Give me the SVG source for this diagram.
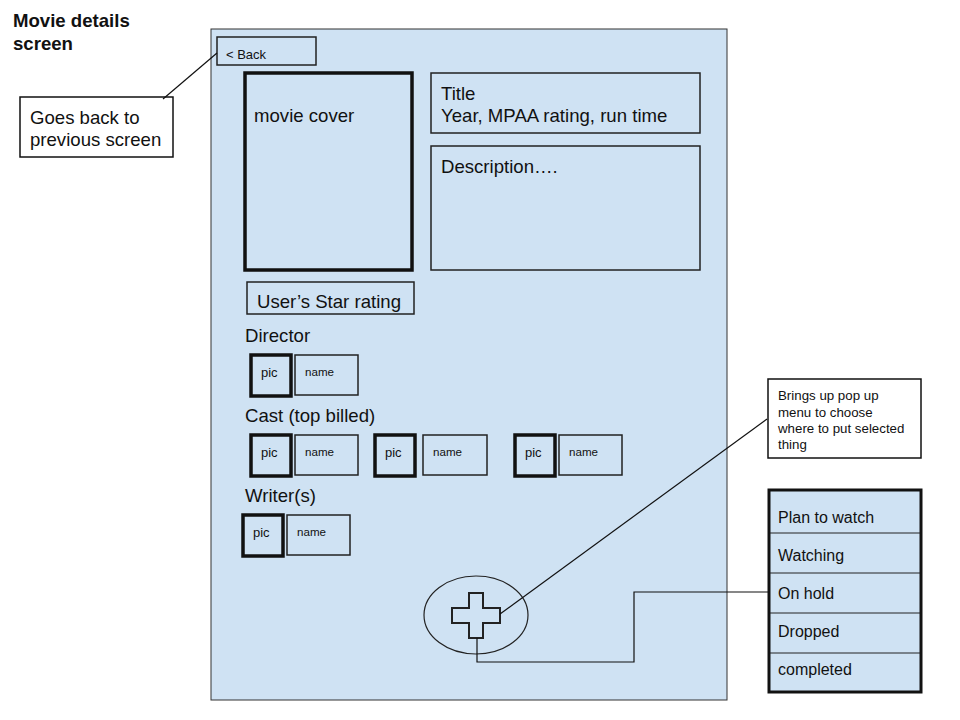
<svg xmlns="http://www.w3.org/2000/svg" width="960" height="720" viewBox="0 0 960 720">
<style>
text{font-family:"Liberation Sans",Arial,sans-serif;fill:#111}
.b{fill:#cfe2f3;stroke:#222;stroke-width:1.5}
.t{fill:#cfe2f3;stroke:#111;stroke-width:3.5}
.w{fill:#fff;stroke:#111;stroke-width:1.5}
.c{fill:none;stroke:#111;stroke-width:1.2}
.L{font-size:18.6px}
.s{font-size:13px}
.x{font-size:11.6px}
.m{font-size:16px}
.n{font-size:13.3px}
</style>
<rect width="960" height="720" fill="#fff"/>
<g id="heading"><text x="13" y="27" font-size="18.6" font-weight="bold">Movie details</text><text x="13" y="50" font-size="18.6" font-weight="bold">screen</text></g>
<g id="screen"><rect x="211" y="29" width="516" height="671" fill="#cfe2f3" stroke="#333" stroke-width="1"/></g>
<g id="back"><rect class="b" x="217" y="37" width="99" height="28" stroke-width="1"/><text class="s" x="226" y="59">&lt; Back</text></g>
<g id="back-note"><rect class="w" x="20" y="97" width="153" height="60"/><text class="L" x="30" y="124">Goes back to</text><text class="L" x="30" y="146">previous screen</text></g>
<g id="cover"><rect class="t" x="245" y="73" width="167" height="197"/><text class="L" x="254" y="122">movie cover</text></g>
<g id="title"><rect class="b" x="431" y="73" width="269" height="60"/><text class="L" x="441" y="100">Title</text><text class="L" x="441" y="122">Year, MPAA rating, run time</text></g>
<g id="description"><rect class="b" x="431" y="146" width="269" height="124"/><text class="L" x="441" y="173">Description….</text></g>
<g id="star"><rect class="b" x="247" y="282" width="167" height="32"/><text class="L" x="257" y="308">User’s Star rating</text></g>
<g id="director"><text class="L" x="245" y="342">Director</text>
<rect class="t" x="251" y="355" width="40" height="41"/><text class="s" x="261" y="377">pic</text>
<rect class="b" x="295" y="355" width="63" height="40"/><text class="x" x="305" y="376">name</text></g>
<g id="cast"><text class="L" x="245" y="422">Cast (top billed)</text>
<rect class="t" x="251" y="435" width="40" height="41"/><text class="s" x="261" y="457">pic</text>
<rect class="b" x="295" y="435" width="63" height="40"/><text class="x" x="305" y="456">name</text>
<rect class="t" x="375" y="435" width="40" height="41"/><text class="s" x="385" y="457">pic</text>
<rect class="b" x="423" y="435" width="64" height="40"/><text class="x" x="433" y="456">name</text>
<rect class="t" x="515" y="435" width="40" height="41"/><text class="s" x="525" y="457">pic</text>
<rect class="b" x="559" y="435" width="63" height="40"/><text class="x" x="569" y="456">name</text></g>
<g id="writers"><text class="L" x="245" y="502">Writer(s)</text>
<rect class="t" x="243" y="515" width="40" height="41"/><text class="s" x="253" y="537">pic</text>
<rect class="b" x="287" y="515" width="63" height="40"/><text class="x" x="297" y="536">name</text></g>
<g id="add-button"><ellipse cx="476" cy="615" rx="52" ry="39" fill="none" stroke="#222" stroke-width="1.2"/>
<path d="M469 593H483V608H500V623H483V638H469V623H452V608H469Z" fill="#cfe2f3" stroke="#222" stroke-width="2"/></g>
<g id="add-note"><rect class="w" x="768" y="379" width="153" height="79"/>
<text class="n" x="778" y="400">Brings up pop up</text>
<text class="n" x="778" y="417">menu to choose</text>
<text class="n" x="778" y="433">where to put selected</text>
<text class="n" x="778" y="449">thing</text></g>
<g id="menu"><rect x="769" y="490" width="152" height="202" fill="#cfe2f3" stroke="#111" stroke-width="3"/>
<path d="M770 533H920M770 573H920M770 613H920M770 653H920" stroke="#222" stroke-width="1"/>
<text class="m" x="778" y="523">Plan to watch</text>
<text class="m" x="778" y="561">Watching</text>
<text class="m" x="778" y="599">On hold</text>
<text class="m" x="778" y="637">Dropped</text>
<text class="m" x="778" y="675">completed</text></g>
<g id="connectors">
<path class="c" d="M163 99L217 53"/>
<path class="c" d="M500 614L767 419"/>
<path class="c" d="M477 638V662H634V592H769"/>
</g>
</svg>
